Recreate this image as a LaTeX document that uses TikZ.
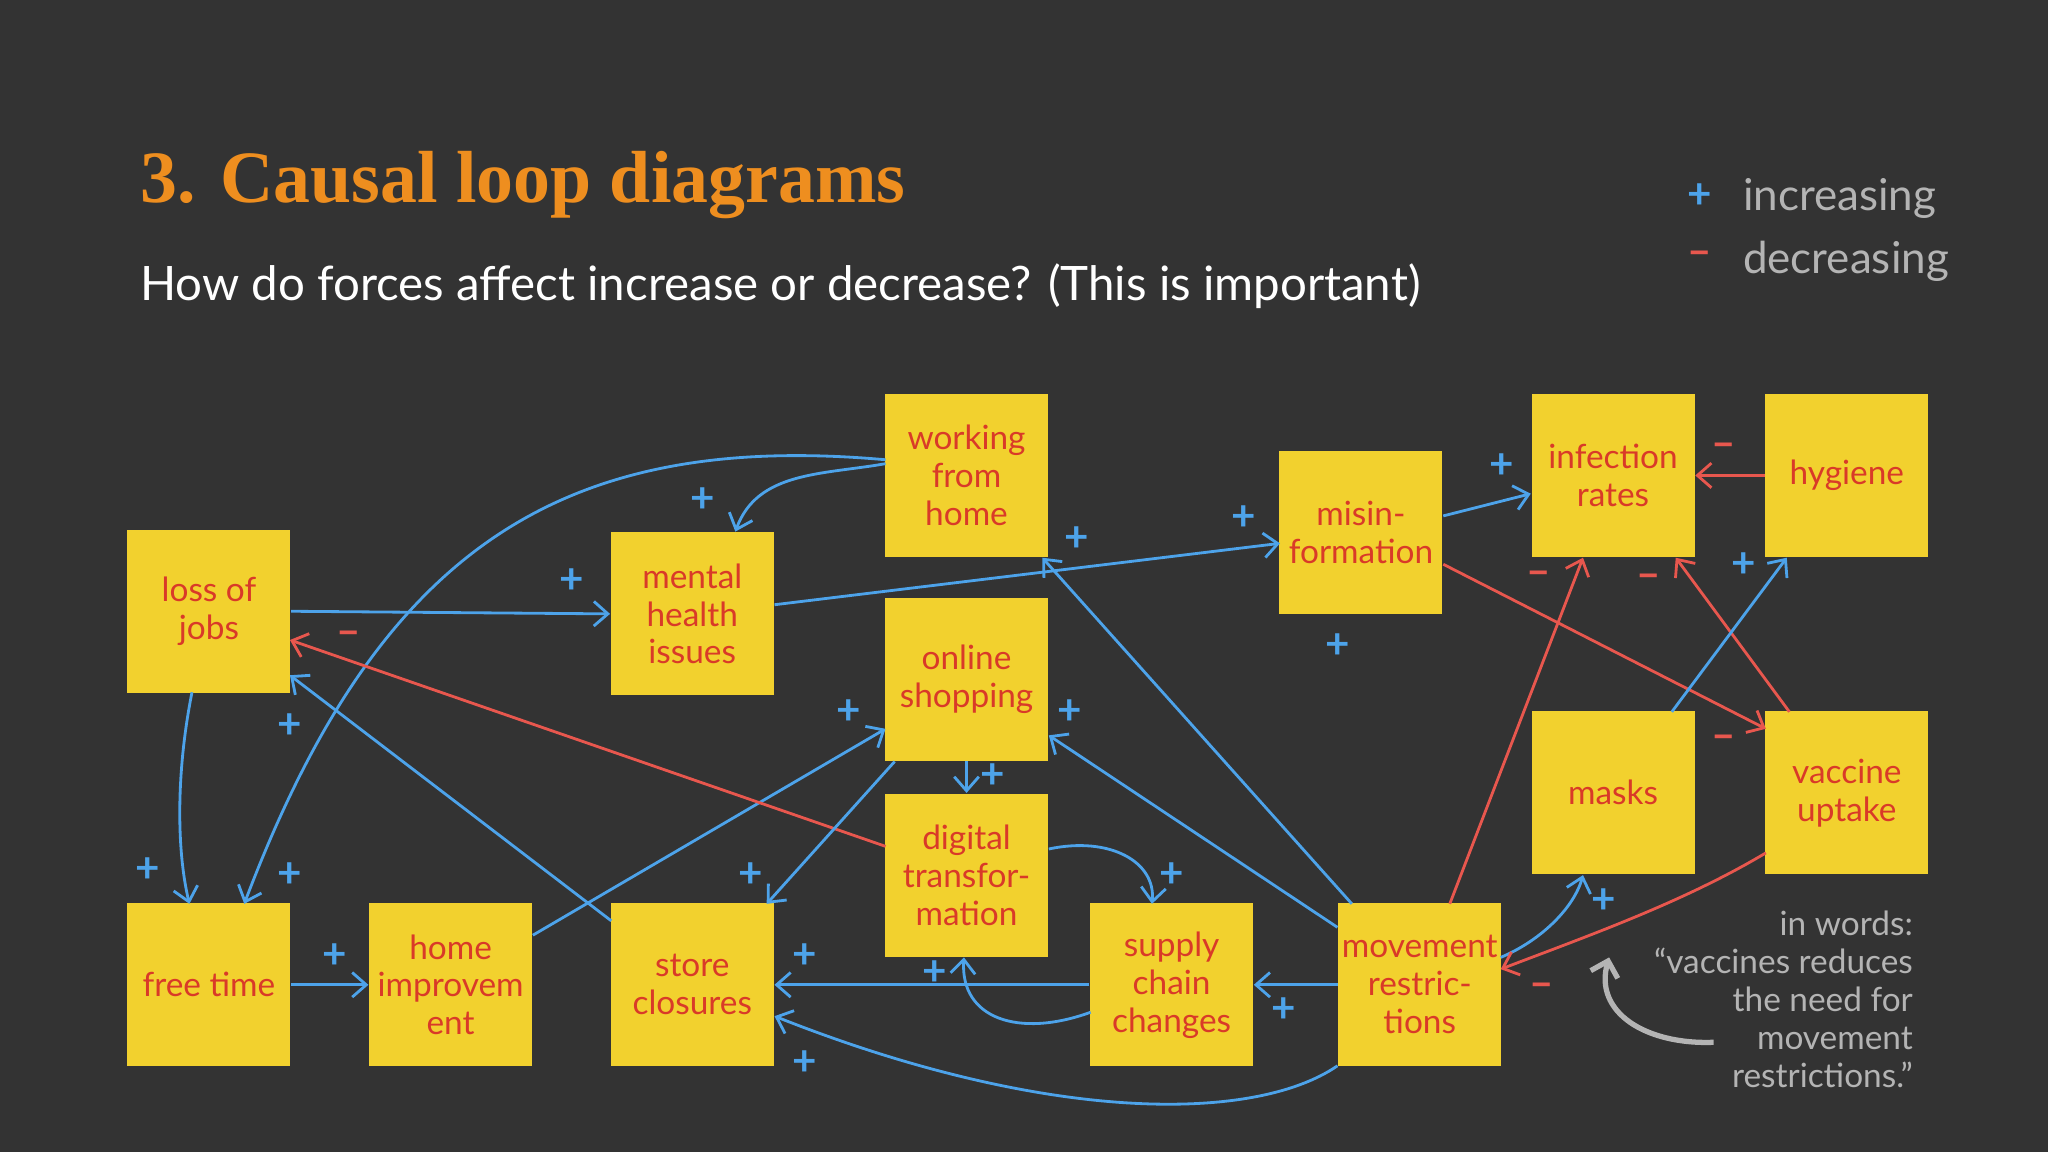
\documentclass[tikz,border=0pt]{standalone}
\usepackage{fontspec}
\setmainfont{Lato}
\newfontfamily\titlefont{Liberation Serif}
\usetikzlibrary{arrows.meta}
\definecolor{bgdark}{HTML}{333333}
\definecolor{note}{HTML}{F2D12E}
\definecolor{notetext}{HTML}{D93A28}
\definecolor{clrpos}{HTML}{4DA3EA}
\definecolor{clrneg}{HTML}{E8574E}
\definecolor{titleorange}{HTML}{EE8E1F}
\definecolor{legendgray}{HTML}{B4B4B4}

\tikzset{
  note/.style={fill=note, minimum size=1.63cm, inner sep=1pt, align=center,
    text=notetext, font=\fontsize{9.5}{10.8}\selectfont},
  pl/.style={clrpos, thick, -{Straight Barb[length=4pt,width=7pt]}},
  mi/.style={clrneg, thick, -{Straight Barb[length=4pt,width=7pt]}},
  psign/.style={text=clrpos, font=\fontsize{12}{12}\selectfont\bfseries, inner sep=0pt},
  msign/.style={text=clrneg, font=\fontsize{12}{12}\selectfont\bfseries, inner sep=0pt}
}

\begin{document}
\begin{tikzpicture}[x=0.01306cm, y=-0.01306cm]
\fill[bgdark] (0,0) rectangle (1568,882);
\useasboundingbox (0,0) rectangle (1568,882);

% title and legend
\node (title) [anchor=west, text=titleorange, font=\titlefont\fontsize{21}{21}\selectfont\bfseries] at (98,142) {3. Causal loop diagrams};
\node (subtitle) [anchor=west, text=white, font=\fontsize{13.5}{13.5}\selectfont] at (98,219) {How do forces affect increase or decrease? (This is important)};
\node (lplus) [psign] at (1301,150) {+};
\node (lminus) [msign] at (1301,198) {--};
\node (linc) [anchor=west, text=legendgray, font=\fontsize{12.5}{12.5}\selectfont] at (1325,152) {increasing};
\node (ldec) [anchor=west, text=legendgray, font=\fontsize{12.5}{12.5}\selectfont] at (1325,200) {decreasing};

% sticky notes
\node (jobs) [note] at (160,468) {loss of\\jobs};
\node (mental) [note] at (530,470) {mental\\health\\issues};
\node (wfh) [note] at (740,364) {working\\from\\home};
\node (online) [note] at (740,520) {online\\shopping};
\node (digital) [note] at (740,670) {digital\\transfor-\\mation};
\node (misinfo) [note] at (1042,408) {misin-\\formation};
\node (infect) [note] at (1235,364) {infection\\rates};
\node (hygiene) [note] at (1414,364) {hygiene};
\node (masks) [note] at (1235,607) {masks};
\node (vaccine) [note] at (1414,607) {vaccine\\uptake};
\node (free) [note] at (160,754) {free time};
\node (homeimp) [note] at (345,754) {home\\improvem\\ent};
\node (store) [note] at (530,754) {store\\closures};
\node (supply) [note] at (897,754) {supply\\chain\\changes};
\node (movement) [note] at (1087,754) {movement\\restric-\\tions};

% links
\draw[pl] (jobs.east) -- (mental.west);
\draw[pl] (593,463) -- (980,416);
\draw[pl] (678,355) to[out=190, in=70] (563,407);
\draw[pl] (678,352) .. controls (430,330) and (290,420) .. (187,692);
\draw[pl] (147,530) .. controls (135,590) and (135,650) .. (145,692);
\draw[pl] (free.east) -- (homeimp.west);
\draw[pl] (408,716) -- (678,558);
\draw[pl] (468,705) -- (222,517);
\draw[mi] (678,648) -- (222,490);
\draw[pl] (online.south) -- (digital.north);
\draw[pl] (685,583) -- (587,692);
\draw[pl] (803,650) .. controls (850,640) and (885,660) .. (882,692);
\draw[pl] (835,775) .. controls (780,795) and (735,780) .. (738,733);
\draw[pl] (supply.west) -- (store.east);
\draw[pl] (1024,816) .. controls (960,860) and (800,860) .. (593,778);
\draw[pl] (movement.west) -- (supply.east);
\draw[pl] (1024,710) -- (803,563);
\draw[pl] (1035,692) -- (798,427);
\draw[mi] (1110,692) -- (1212,427);
\draw[mi] (1105,432) -- (1352,558);
\draw[mi] (1370,545) -- (1283,427);
\draw[pl] (1105,395) -- (1172,378);
\draw[mi] (hygiene.west) -- (infect.east);
\draw[pl] (1280,545) -- (1368,427);
\draw[pl] (1149,733) .. controls (1180,720) and (1205,695) .. (1212,670);
\draw[mi] (1352,653) .. controls (1290,690) and (1220,715) .. (1149,742);

% signs
\foreach \x/\y [count=\i] in {438/445, 952/397, 538/383, 222/670, 113/666, 256/732,
  650/545, 222/556, 760/594, 575/670, 897/670, 716/745, 616/732, 616/814, 983/773,
  819/545, 824/413, 1150/357, 1335/433, 1228/690, 1024/495}
  \node (p\i) [psign] at (\x,\y) {+};
\foreach \x/\y [count=\i] in {267/489, 1178/443, 1320/568, 1262/445, 1320/345, 1180/758}
  \node (n\i) [msign] at (\x,\y) {--};

% note in words
\node (words) [anchor=north east, align=right, text=legendgray, font=\fontsize{9.5}{10.8}\selectfont] at (1474,688)
  {in words:\\``vaccines reduces\\the need for\\movement\\restrictions.''};
\draw[legendgray, line width=1.5pt, -{Straight Barb[length=4pt,width=8pt]}]
  (1312,798) .. controls (1260,800) and (1220,775) .. (1232,733);

\end{tikzpicture}
\end{document}
